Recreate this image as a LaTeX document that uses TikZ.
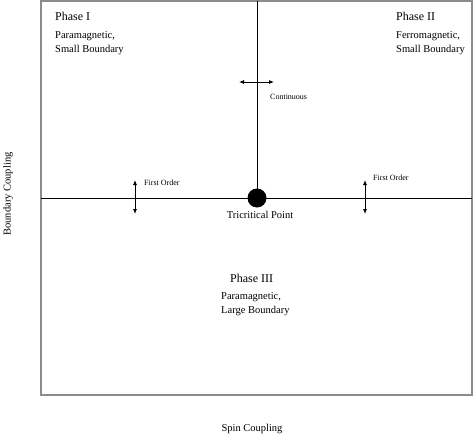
\documentclass[tikz,border=0pt]{standalone}
\usepackage{fontspec}
\setmainfont{Liberation Serif}
\usetikzlibrary{arrows.meta}
\tikzset{
    phase/.style={anchor=north west, inner sep=0pt, font=\fontsize{12}{14}\selectfont},
    desc/.style={anchor=north west, inner sep=0pt, align=left, font=\fontsize{10.5}{14}\selectfont},
    order/.style={anchor=west, inner sep=0pt, font=\fontsize{8}{9}\selectfont},
    axis/.style={inner sep=0pt, font=\fontsize{10.5}{12}\selectfont},
    trans/.style={{Latex[length=5pt,width=4pt]}-{Latex[length=5pt,width=4pt]}, line width=0.8pt}
}
\begin{document}
\begin{tikzpicture}[x=1pt, y=-1pt]
    \useasboundingbox (0,0) rectangle (473,436);
    % frame and phase boundaries
    \draw[line width=1.5pt, black!45] (41,1) rectangle (472,395);
    \coordinate (left) at (41,198);
    \coordinate (right) at (472,198);
    \coordinate (top) at (257,1);
    \node[circle, fill=black, inner sep=0pt, minimum size=19pt] (tri) at (257,198) {};
    \draw[line width=0.7pt] (left) -- (right);
    \draw[line width=0.7pt] (top) -- (tri.center);
    \node[axis, anchor=north] (trilabel) at (260,211) {Tricritical Point};
    % phases
    \node[phase] (p1) at (55,12) {Phase I};
    \node[desc] (d1) at (55,31) {Paramagnetic,\\Small Boundary};
    \node[phase] (p2) at (396,12) {Phase II};
    \node[desc] (d2) at (396,31) {Ferromagnetic,\\Small Boundary};
    \node[phase] (p3) at (230,274) {Phase III};
    \node[desc] (d3) at (221,292) {Paramagnetic,\\Large Boundary};
    % transitions
    \coordinate (a1) at (135,180);
    \coordinate (b1) at (135,214);
    \draw[trans] (a1) -- (b1);
    \node[order] (f1) at (144,183) {First Order};
    \coordinate (a2) at (365,180);
    \coordinate (b2) at (365,214);
    \draw[trans] (a2) -- (b2);
    \node[order] (f2) at (373,178) {First Order};
    \coordinate (a3) at (239,82);
    \coordinate (b3) at (274,82);
    \draw[trans] (a3) -- (b3);
    \node[order] (cont) at (270,97) {Continuous};
    % axes
    \node[axis] (xlab) at (252,429) {Spin Coupling};
    \node[axis, rotate=90] (ylab) at (8,194) {Boundary Coupling};
\end{tikzpicture}
\end{document}
